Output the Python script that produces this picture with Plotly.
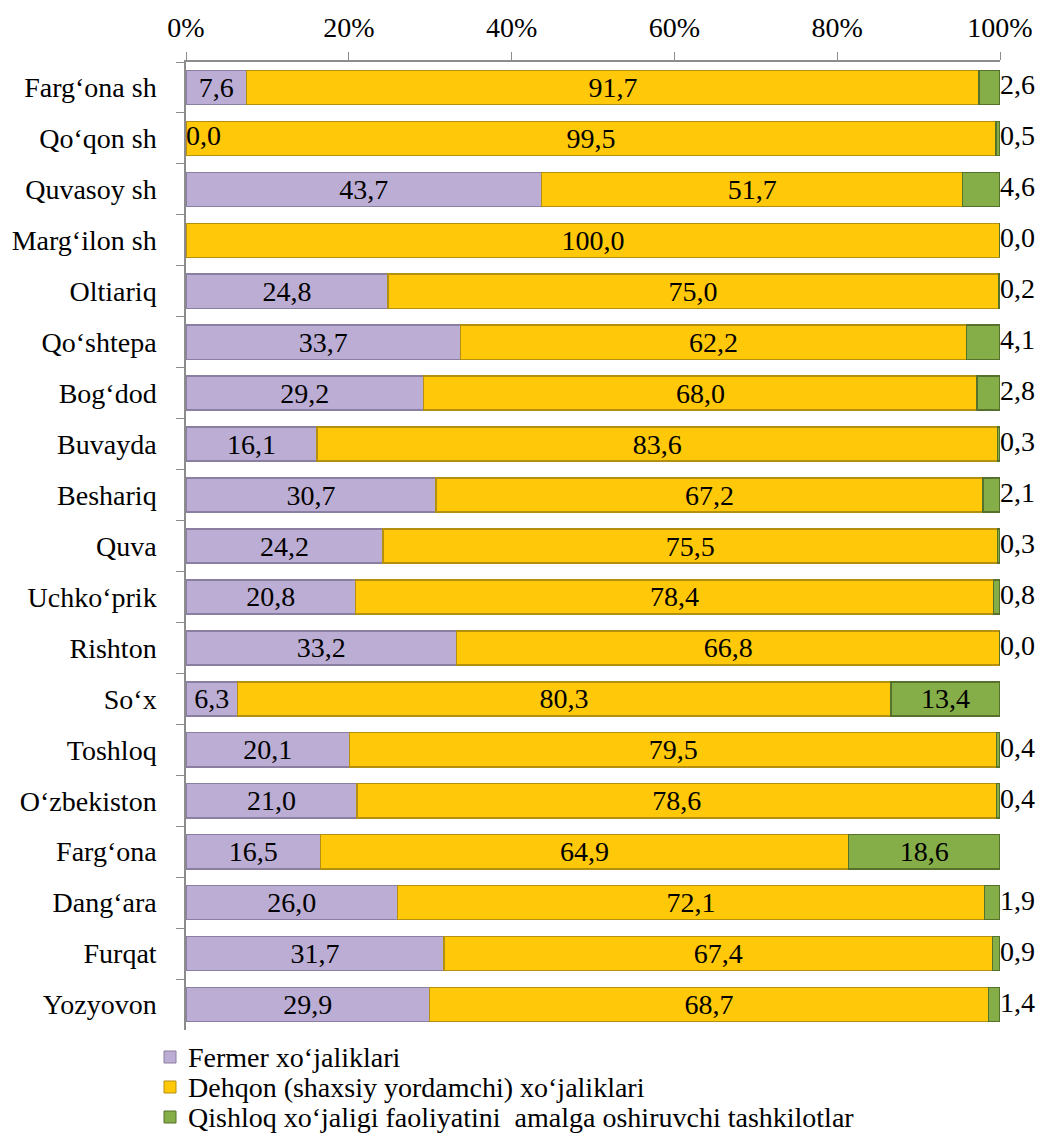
import plotly.graph_objects as go

categories = ["Farg‘ona sh", "Qo‘qon sh", "Quvasoy sh", "Marg‘ilon sh", "Oltiariq",
              "Qo‘shtepa", "Bog‘dod", "Buvayda", "Beshariq", "Quva", "Uchko‘prik",
              "Rishton", "So‘x", "Toshloq", "O‘zbekiston", "Farg‘ona", "Dang‘ara",
              "Furqat", "Yozyovon"]
fermer = [7.6, 0.0, 43.7, 0.0, 24.8, 33.7, 29.2, 16.1, 30.7, 24.2, 20.8, 33.2, 6.3,
          20.1, 21.0, 16.5, 26.0, 31.7, 29.9]
dehqon = [91.7, 99.5, 51.7, 100.0, 75.0, 62.2, 68.0, 83.6, 67.2, 75.5, 78.4, 66.8,
          80.3, 79.5, 78.6, 64.9, 72.1, 67.4, 68.7]
qishloq = [2.6, 0.5, 4.6, 0.0, 0.2, 4.1, 2.8, 0.3, 2.1, 0.3, 0.8, 0.0, 13.4, 0.4,
           0.4, 18.6, 1.9, 0.9, 1.4]
series_names = ["Fermer xo‘jaliklari", "Dehqon (shaxsiy yordamchi) xo‘jaliklari",
                "Qishloq xo‘jaligi faoliyatini  amalga oshiruvchi tashkilotlar"]
series_colors = ["#BCADD4", "#FFC808", "#86AE48"]
series_lines = ["#8A7FA0", "#B58F10", "#56712C"]
tick_vals = [0, 20, 40, 60, 80, 100]
tick_text = ["0%", "20%", "40%", "60%", "80%", "100%"]

def fmt(v):
    return f"{v:.1f}".replace(".", ",")

totals = [a + b + c for a, b, c in zip(fermer, dehqon, qishloq)]
f_pct = [v / t * 100 for v, t in zip(fermer, totals)]
d_pct = [v / t * 100 for v, t in zip(dehqon, totals)]
q_pct = [v / t * 100 for v, t in zip(qishloq, totals)]

FONT = "Liberation Serif, Times New Roman, serif"
fs = 28

f_text = [fmt(v) if v > 0 else "" for v in fermer]
d_text = [fmt(v) for v in dehqon]
inside_q = [v >= 10 for v in qishloq]
q_text = [fmt(v) if ins else "" for v, ins in zip(qishloq, inside_q)]

fig = go.Figure()
for vals, txt, name, col, lc in zip([f_pct, d_pct, q_pct], [f_text, d_text, q_text],
                                    series_names, series_colors, series_lines):
    fig.add_trace(go.Bar(
        y=categories, x=vals, orientation="h", name=name,
        marker=dict(color=col, line=dict(color=lc, width=1.5)),
        text=txt, textposition="inside", insidetextanchor="middle",
        constraintext="none", textfont=dict(family=FONT, size=fs, color="black"),
        hoverinfo="skip", showlegend=False))

out_idx = [i for i, ins in enumerate(inside_q) if not ins]
fig.add_trace(go.Scatter(
    y=[categories[i] for i in out_idx],
    x=[round(f_pct[i] + d_pct[i] + q_pct[i], 6) for i in out_idx],
    mode="text", text=[fmt(qishloq[i]) for i in out_idx],
    textposition="middle right",
    textfont=dict(family=FONT, size=fs, color="black"),
    showlegend=False, hoverinfo="skip", cliponaxis=False))

zero_idx = [i for i, v in enumerate(fermer) if v == 0 and dehqon[i] < 100]
fig.add_trace(go.Scatter(
    y=[categories[i] for i in zero_idx], x=[0 for _ in zero_idx],
    mode="text", text=[fmt(fermer[i]) for i in zero_idx],
    textposition="middle right",
    textfont=dict(family=FONT, size=fs, color="black"),
    showlegend=False, hoverinfo="skip", cliponaxis=False))

# page body adds an 8px offset, so figure coordinates are shifted by -8
OFF = 8
plot_top, plot_bottom, plot_left, plot_w = 62 - OFF, 1030 - OFF, 186 - OFF, 814
plot_h = plot_bottom - plot_top
leg_rows_px = [1057 - OFF, 1087 - OFF, 1117 - OFF]
for name, col, lc, ypx in zip(series_names, series_colors, series_lines, leg_rows_px):
    yp = (plot_bottom - ypx) / plot_h
    fig.add_shape(type="rect", xref="paper", yref="paper",
                  xsizemode="pixel", ysizemode="pixel",
                  xanchor=(170 - OFF - plot_left) / plot_w, yanchor=yp,
                  x0=-6, x1=6, y0=-6, y1=6,
                  fillcolor=col, line=dict(color=lc, width=1))
    fig.add_annotation(xref="paper", yref="paper",
                       x=(186 - OFF - plot_left) / plot_w, y=yp,
                       xanchor="left", yanchor="middle", text=name, showarrow=False,
                       font=dict(family=FONT, size=fs, color="black"))

n = len(categories)
fig.update_layout(
    barmode="stack", bargap=0.33,
    width=1062, height=1143,
    margin=dict(l=plot_left, r=1062 - plot_left - plot_w, t=plot_top,
                b=1143 - plot_bottom, autoexpand=False),
    paper_bgcolor="white", plot_bgcolor="white",
    font=dict(family=FONT, size=fs, color="black"),
    showlegend=False,
    xaxis=dict(side="top", range=[0, 100], tickvals=tick_vals, ticktext=tick_text,
               showgrid=False, zeroline=False, showline=True, linecolor="#8C8C8C",
               linewidth=1.5, ticks="outside", ticklen=8, tickcolor="#8C8C8C",
               ticklabelstandoff=4, automargin=False,
               tickfont=dict(family=FONT, size=fs, color="black")),
    yaxis=dict(categoryorder="array", categoryarray=categories,
               range=[n - 0.5, -0.5], autorange=False, automargin=False,
               showgrid=False, zeroline=False, showline=True, linecolor="#8C8C8C",
               linewidth=1.5, ticks="outside", ticklen=8, tickcolor="#8C8C8C",
               tickson="boundaries", ticklabelstandoff=22,
               tickfont=dict(family=FONT, size=fs, color="black")),
)

fig.write_html("out.html")
